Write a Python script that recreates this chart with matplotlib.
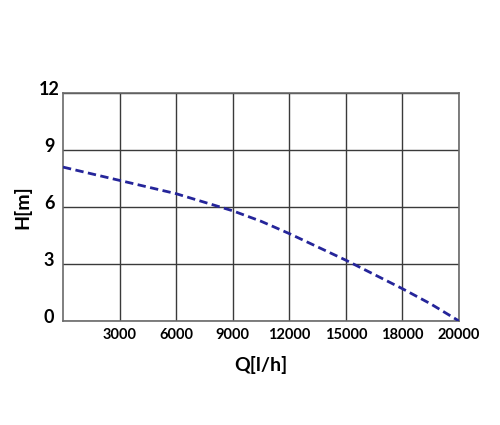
import numpy as np
import matplotlib
matplotlib.use('Agg')
import matplotlib.pyplot as plt
import matplotlib.transforms as mtransforms

# pump curve (x in axis units, last gridline labelled 20000)
flow = [0, 1500, 3000, 4500, 6000, 7500, 9000, 10500, 12000, 13500, 15000, 16500, 18000, 19500, 21000]
head = [8.1, 7.75, 7.4, 7.05, 6.7, 6.25, 5.8, 5.25, 4.6, 3.9, 3.2, 2.45, 1.7, 0.9, 0.0]

x_ticks = [3000, 6000, 9000, 12000, 15000, 18000, 21000]
x_labels = ['3000', '6000', '9000', '12000', '15000', '18000', '20000']
y_ticks = [0, 3, 6, 9, 12]
y_labels = ['0', '3', '6', '9', '12']

fig = plt.figure(figsize=(5, 4.25), dpi=100)
ax = fig.add_axes([0.126, 0.2447, 0.792, 0.5365])

ax.plot(flow, head, color='#25259a', lw=2, linestyle=(0, (3, 1.6)), zorder=3)

ax.set_xlim(0, 21000)
ax.set_ylim(0, 12)
ax.set_xticks(x_ticks)
ax.set_xticklabels(x_labels, fontsize=10.5, fontweight='bold', family='Lato')
ax.set_yticks(y_ticks)
ax.set_yticklabels(y_labels, fontsize=13, fontweight='bold', family='Lato', ha='center')
ax.tick_params(length=0, pad=5)
ax.tick_params(axis='y', pad=10)

# y labels sit slightly above their gridlines
off = mtransforms.ScaledTranslation(0, 5 / 100, fig.dpi_scale_trans)
for lab in ax.get_yticklabels():
    lab.set_transform(lab.get_transform() + off)

ax.grid(True, color='#3a3a3a', lw=1)
for sp in ax.spines.values():
    sp.set_color('#6a6a6a')
    sp.set_linewidth(1.2)

ax.set_xlabel('Q[l/h]', fontsize=14, fontweight='bold', family='Lato', labelpad=10)
ax.set_ylabel('H[m]', fontsize=14, fontweight='bold', family='Lato', labelpad=5)

fig.savefig('out.png', dpi=100)
